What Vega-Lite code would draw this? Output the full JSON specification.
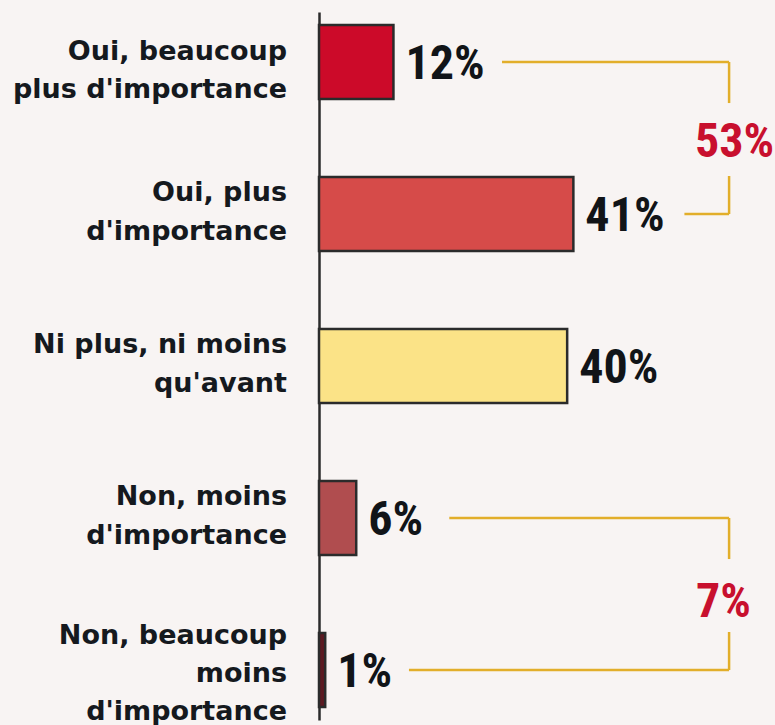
{
  "$schema": "https://vega.github.io/schema/vega-lite/v6.json",
  "autosize": "none",
  "width": 456,
  "height": 708,
  "padding": {"left": 319, "top": 12, "right": 0, "bottom": 5},
  "background": "#F8F4F3",
  "config": {"view": {"stroke": null}},
  "datasets": {
    "bars": [
      {"cat": "Oui, beaucoup|plus d'importance", "value": 12, "label": "12%", "col": "#CC0A29"},
      {"cat": "Oui, plus|d'importance", "value": 41, "label": "41%", "col": "#D64B49"},
      {"cat": "Ni plus, ni moins|qu'avant", "value": 40, "label": "40%", "col": "#FBE387"},
      {"cat": "Non, moins|d'importance", "value": 6, "label": "6%", "col": "#B04D4F"},
      {"cat": "Non, beaucoup|moins|d'importance", "value": 1, "label": "1%", "col": "#5C1A22"}
    ],
    "brackets": [
      {"x1": 29.5, "x2": 66.1, "y1": 0, "y2": 0},
      {"x1": 66.1, "x2": 66.1, "y1": 0, "y2": 0.27},
      {"x1": 66.1, "x2": 66.1, "y1": 0.75, "y2": 1},
      {"x1": 58.9, "x2": 66.1, "y1": 1, "y2": 1},
      {"x1": 21.0, "x2": 66.1, "y1": 3, "y2": 3},
      {"x1": 66.1, "x2": 66.1, "y1": 3, "y2": 3.27},
      {"x1": 66.1, "x2": 66.1, "y1": 3.75, "y2": 4},
      {"x1": 14.5, "x2": 66.1, "y1": 4, "y2": 4}
    ],
    "totals": [
      {"x": 67.0, "y": 0.51, "label": "53%"},
      {"x": 65.2, "y": 3.54, "label": "7%"}
    ]
  },
  "layer": [
    {
      "layer": [
        {
          "data": {"name": "bars"},
          "mark": {"type": "bar", "stroke": "#2B2B2B", "strokeWidth": 2.5},
          "encoding": {
            "y": {
              "field": "cat", "type": "nominal", "sort": null,
              "scale": {"paddingInner": 0.513, "paddingOuter": 0.0855},
              "axis": {"title": null, "ticks": false, "labels": false, "domainColor": "#2B2B2B", "domainWidth": 2.5}
            },
            "x": {"field": "value", "type": "quantitative", "scale": {"domain": [0, 73.5], "nice": false}, "axis": null},
            "fill": {"field": "col", "type": "nominal", "scale": null}
          }
        },
        {
          "data": {"name": "bars"},
          "mark": {"type": "text", "align": "left", "baseline": "middle", "dx": 12, "dy": 3, "font": "Roboto Condensed, DejaVu Sans Condensed, Roboto", "fontWeight": "bold", "fontSize": 48, "color": "#111418"},
          "encoding": {
            "y": {"field": "cat", "type": "nominal", "sort": null},
            "x": {"field": "value", "type": "quantitative"},
            "text": {"field": "label"}
          }
        },
        {
          "data": {"name": "bars"},
          "transform": [{"filter": "datum.cat == 'Oui, beaucoup|plus d\\'importance'"}],
          "mark": {"type": "text", "align": "right", "baseline": "middle", "dx": -32, "dy": -10, "lineBreak": "|", "lineHeight": 38, "font": "DejaVu Sans", "fontWeight": "bold", "fontSize": 27, "color": "#15191E"},
          "encoding": {
            "y": {"field": "cat", "type": "nominal", "sort": null},
            "x": {"datum": 0},
            "text": {"field": "cat"}
          }
        },
        {
          "data": {"name": "bars"},
          "transform": [{"filter": "length(split(datum.cat, '|')) == 2 && datum.cat != 'Oui, beaucoup|plus d\\'importance'"}],
          "mark": {"type": "text", "align": "right", "baseline": "middle", "dx": -32, "dy": -21, "lineBreak": "|", "lineHeight": 39, "font": "DejaVu Sans", "fontWeight": "bold", "fontSize": 27, "color": "#15191E"},
          "encoding": {
            "y": {"field": "cat", "type": "nominal", "sort": null},
            "x": {"datum": 0},
            "text": {"field": "cat"}
          }
        },
        {
          "data": {"name": "bars"},
          "transform": [{"filter": "length(split(datum.cat, '|')) == 3"}],
          "mark": {"type": "text", "align": "right", "baseline": "middle", "dx": -32, "dy": -34, "lineBreak": "|", "lineHeight": 38, "font": "DejaVu Sans", "fontWeight": "bold", "fontSize": 27, "color": "#15191E"},
          "encoding": {
            "y": {"field": "cat", "type": "nominal", "sort": null},
            "x": {"datum": 0},
            "text": {"field": "cat"}
          }
        }
      ]
    },
    {
      "layer": [
        {
          "data": {"name": "brackets"},
          "mark": {"type": "rule", "color": "#E2AE2A", "strokeWidth": 2.5},
          "encoding": {
            "x": {"field": "x1", "type": "quantitative"},
            "x2": {"field": "x2"},
            "y": {"field": "y1", "type": "quantitative", "scale": {"domain": [-0.329, 4.329], "reverse": true, "nice": false, "zero": false}, "axis": null},
            "y2": {"field": "y2"}
          }
        },
        {
          "data": {"name": "totals"},
          "mark": {"type": "text", "align": "center", "baseline": "middle", "dy": 3, "font": "Roboto Condensed, DejaVu Sans Condensed, Roboto", "fontWeight": "bold", "fontSize": 48, "color": "#C8102E"},
          "encoding": {
            "x": {"field": "x", "type": "quantitative"},
            "y": {"field": "y", "type": "quantitative"},
            "text": {"field": "label"}
          }
        }
      ]
    }
  ],
  "resolve": {"scale": {"y": "independent"}}
}
